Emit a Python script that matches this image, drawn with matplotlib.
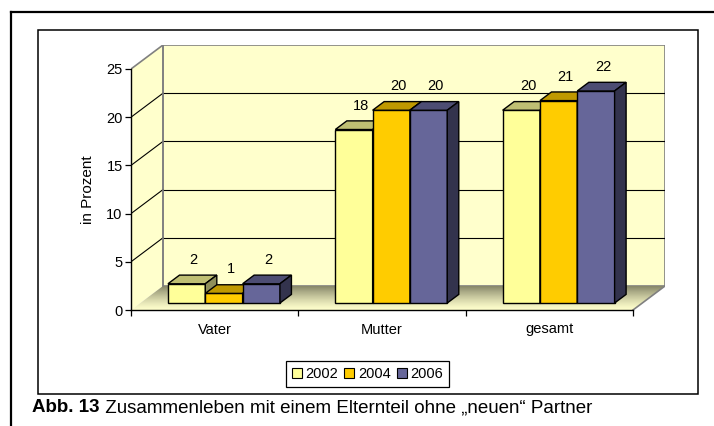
import matplotlib
matplotlib.use('Agg')
import matplotlib.pyplot as plt
from matplotlib.patches import Polygon, Rectangle, Patch
from matplotlib.lines import Line2D
import numpy as np

# ---------------- data ----------------
categories = ['Vater', 'Mutter', 'gesamt']
years = ['2002', '2004', '2006']
v2002 = [2, 18, 20]
v2004 = [1, 20, 21]
v2006 = [2, 20, 22]
yticks = [0, 5, 10, 15, 20, 25]
ylabel = 'in Prozent'
caption_bold = 'Abb. 13'
caption_text = ' Zusammenleben mit einem Elternteil ohne \u201eneuen\u201c Partner'

series = [v2002, v2004, v2006]
front_cols = ['#FFFF99', '#FFCC00', '#666699']
top_cols = ['#BFBF73', '#BF9900', '#4D4D73']
side_cols = ['#8F8F5A', '#8F7300', '#33334D']

# ---------------- figure ----------------
W, H = 714, 426
DPI = 100
FS = 10.5
plt.rcParams['font.family'] = ['Liberation Sans', 'DejaVu Sans']
fig = plt.figure(figsize=(W / DPI, H / DPI), dpi=DPI)
fig.patch.set_facecolor('white')


def px(x, y):
    return x / W, 1 - y / H


# frames
fig.add_artist(Line2D([11 / W, 11 / W], [1 - 12 / H, 0], transform=fig.transFigure,
                      color='black', lw=1.6))
fig.add_artist(Line2D([11 / W, 1], [1 - 12 / H, 1 - 12 / H], transform=fig.transFigure,
                      color='black', lw=1.6))
fig.add_artist(Rectangle(px(38, 394), (698 - 38) / W, (394 - 30) / H, transform=fig.transFigure,
                         fill=False, edgecolor='black', lw=1.1))

# axes
ax_l, ax_r, ax_t, ax_b = 131, 665, 45, 310
ax = fig.add_axes([ax_l / W, 1 - ax_b / H, (ax_r - ax_l) / W, (ax_b - ax_t) / H])
ax.patch.set_visible(False)
n = len(categories)
ymax = yticks[-1]
ddx = 32 / 167.33
ddy = 24 / (241 / 25)
ax.set_xlim(0, n + ddx)
ax.set_ylim(0, ymax + ddy)

wall_col = '#FFFFCC'
edge_grey = '#808080'

# side wall
ax.add_patch(Polygon([(0, 0), (ddx, ddy), (ddx, ymax + ddy), (0, ymax)], closed=True,
                     facecolor=wall_col, edgecolor='none', zorder=0.5))
ax.plot([0, ddx], [ymax, ymax + ddy], color=edge_grey, lw=1.2, zorder=1.2)
# back wall
ax.add_patch(Rectangle((ddx, ddy), n, ymax, facecolor=wall_col, edgecolor=edge_grey,
                       lw=1.2, zorder=0.5))
# floor gradient
floor = Polygon([(0, 0), (n, 0), (n + ddx, ddy), (ddx, ddy)], closed=True,
                facecolor='none', edgecolor='none')
ax.add_patch(floor)
t = np.linspace(0, 1, 100)[:, None]
front = np.array([255, 255, 204]) / 255
back = np.array([135, 135, 105]) / 255
grad = front[None, None, :] * (1 - t[..., None] ** 1.3) + back[None, None, :] * (t[..., None] ** 1.3)
im = ax.imshow(grad, extent=(0, n + ddx, 0, ddy), origin='lower', aspect='auto',
               zorder=0.6, interpolation='bilinear')
im.set_clip_path(floor)
ax.plot([n, n + ddx], [0, ddy], color=edge_grey, lw=1.2, zorder=1.2)

# gridlines
for v in yticks[1:-1]:
    ax.plot([0, ddx], [v, v + ddy], color='black', lw=0.8, zorder=1)
    ax.plot([ddx, n + ddx], [v + ddy, v + ddy], color='black', lw=0.8, zorder=1)
ax.plot([ddx, ddx], [ddy, ymax + ddy], color=edge_grey, lw=1.2, zorder=1.1)

# bars
bw = 0.223
f0, f1 = 0.29, 0.65
z = 3
for i in range(n):
    for j, vals in enumerate(series):
        v = vals[i]
        x0 = i + 0.5 - 1.5 * bw + j * bw + f0 * ddx
        x1 = x0 + bw
        yb = f0 * ddy
        yt = yb + v
        ex = (f1 - f0) * ddx
        ey = (f1 - f0) * ddy
        ax.add_patch(Polygon([(x0, yb), (x1, yb), (x1, yt), (x0, yt)], closed=True,
                             facecolor=front_cols[j], edgecolor='black', lw=1.0, zorder=z))
        ax.add_patch(Polygon([(x0, yt), (x1, yt), (x1 + ex, yt + ey), (x0 + ex, yt + ey)], closed=True,
                             facecolor=top_cols[j], edgecolor='black', lw=1.0, zorder=z))
        ax.add_patch(Polygon([(x1, yb), (x1 + ex, yb + ey), (x1 + ex, yt + ey), (x1, yt)], closed=True,
                             facecolor=side_cols[j], edgecolor='black', lw=1.0, zorder=z))
        ax.annotate(str(v), xy=((x0 + x1) / 2, yt), xytext=(7, 24), textcoords='offset pixels',
                    ha='center', va='center', fontsize=FS, zorder=20)
        z += 1

# spines & ticks
for s in ['top', 'right']:
    ax.spines[s].set_visible(False)
ax.spines['left'].set_bounds(0, ymax)
ax.spines['bottom'].set_bounds(0, n)
for s in ['left', 'bottom']:
    ax.spines[s].set_linewidth(1.0)
    ax.spines[s].set_zorder(2)
ax.set_yticks(yticks)
ax.set_yticklabels([str(v) for v in yticks])
ax.set_xticks(range(n + 1))
ax.set_xticklabels([])
ax.set_xticks([i + 0.5 for i in range(n)], minor=True)
ax.set_xticklabels(categories, minor=True)
ax.tick_params(axis='y', direction='out', length=4, width=0.9, pad=2, labelsize=FS)
ax.tick_params(axis='x', which='major', direction='out', length=4, width=0.9)
ax.tick_params(axis='x', which='minor', length=0, pad=9, labelsize=FS)

fig.text(*px(88, 190), ylabel, rotation=90, ha='center', va='center', fontsize=FS + 0.5)

# legend
handles = [Patch(facecolor=c, edgecolor='black', lw=0.8) for c in front_cols]
leg = fig.legend(handles, years, loc='center', bbox_to_anchor=px(367.5, 374), ncol=3,
                 frameon=True, fancybox=False, edgecolor='black', framealpha=1,
                 handlelength=0.7, handleheight=0.7, handletextpad=0.25,
                 columnspacing=0.4, borderpad=0.4, fontsize=FS)
leg.get_frame().set_linewidth(0.9)

# caption
t1 = fig.text(*px(32, 408), caption_bold, fontweight='bold', fontsize=13.5, ha='left', va='center')
fig.canvas.draw()
bb = t1.get_window_extent(fig.canvas.get_renderer())
fig.text(bb.x1 / W, 1 - 408 / H, caption_text, fontsize=13.5, ha='left', va='center')

fig.savefig('out.png', dpi=DPI)
